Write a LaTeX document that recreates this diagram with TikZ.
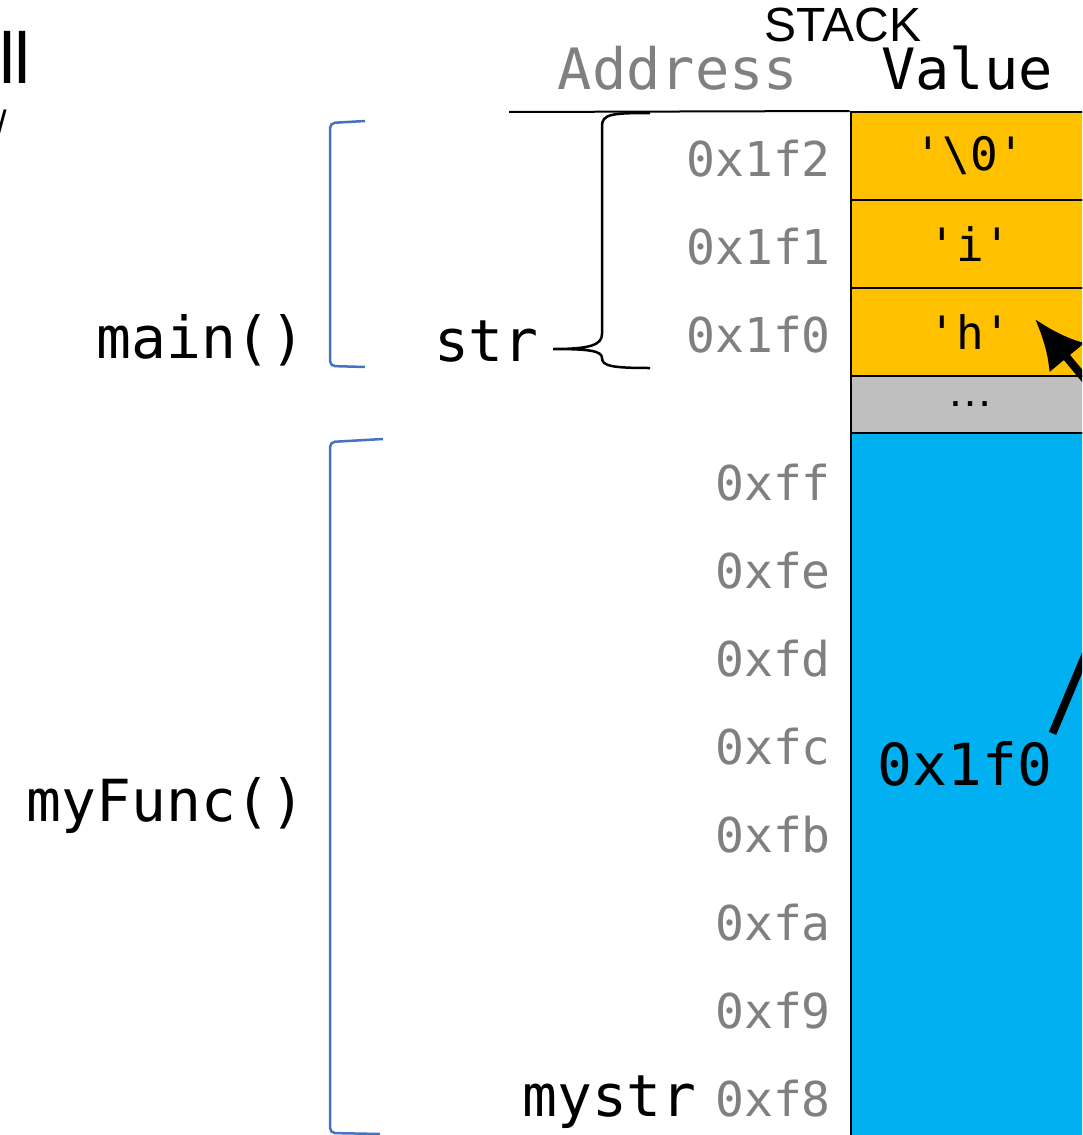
\documentclass[tikz,border=0pt]{standalone}
\usepackage{fontspec}
\setmonofont{DejaVu Sans Mono}
\setsansfont{Liberation Sans}
\usepackage{tikz}
\usetikzlibrary{arrows.meta,positioning,calc}
\definecolor{jaune}{HTML}{FFC000}
\definecolor{grisclair}{HTML}{BFBFBF}
\definecolor{bleuciel}{HTML}{00B0F0}
\definecolor{bleutrait}{HTML}{4472C4}
\definecolor{grisadresse}{HTML}{808080}
\newcommand{\taille}[1]{\fontsize{#1}{#1}\selectfont}
\newcommand{\apos}{\textquotesingle}

\begin{document}
\begin{tikzpicture}[x=1pt,y=-1pt]
\tikzstyle{case}=[draw=black,line width=2pt,minimum width=239pt,minimum height=88pt,inner sep=0pt,font=\ttfamily\taille{46}]
\tikzstyle{adresse}=[anchor=east,inner sep=0pt,text=grisadresse,font=\ttfamily\taille{48}]
\tikzstyle{entete}=[inner sep=0pt,font=\ttfamily\taille{57}]
\tikzstyle{etiquette}=[inner sep=0pt,font=\ttfamily\taille{58}]
\tikzstyle{crochet}=[draw=bleutrait,line width=2.5pt,rounded corners=5pt]
\tikzstyle{accolade}=[draw=black,line width=2.5pt]
\tikzstyle{fleche}=[-{Latex[length=50pt,width=46pt]},line width=8pt]
\def\HauteurCase{88}
\def\HautPile{112}
\def\HautCadre{436}
\def\XValeur{970}
\def\XAdresse{831}
\useasboundingbox (0,0) rectangle (1082,1135);
\clip (0,0) rectangle (1082,1135);
\node[inner sep=0pt,font=\sffamily\taille{72}] (coupe) at (15,57) {ll};
\node[anchor=east,inner sep=0pt,font=\sffamily\taille{38}] (coupebis) at (7,124) {/};
\node[inner sep=0pt,font=\sffamily\taille{48}] (pile) at (843,25) {STACK};
\node[entete,text=grisadresse] (adr) at (678,68) {Address};
\node[entete] (val) at (967,68) {Value};
\node[case,fill=jaune] (c2) at ({\XValeur},{\HautPile+0.5*\HauteurCase}) {\apos\textbackslash0\apos};
\node[case,fill=jaune] (c1) at ({\XValeur},{\HautPile+1.5*\HauteurCase}) {\apos i\apos};
\node[case,fill=jaune] (c0) at ({\XValeur},{\HautPile+2.5*\HauteurCase}) {\apos h\apos};
\node[case,fill=grisclair,minimum height=57pt,font=\sffamily\taille{46}] (trou) at ({\XValeur},{\HautPile+3*\HauteurCase+28.5}) {\ldots};
\node[case,fill=bleuciel,minimum height=707pt] (cadre) at ({\XValeur},{433+353.5}) {};
\coordinate (debut) at (509,112);
\draw[line width=2pt] (debut) -- (c2.north west);
\node[adresse] (a2) at ({\XAdresse},{\HautPile+0.5*\HauteurCase+3}) {0x1f2};
\node[adresse] (a1) at ({\XAdresse},{\HautPile+1.5*\HauteurCase+3}) {0x1f1};
\node[adresse] (a0) at ({\XAdresse},{\HautPile+2.5*\HauteurCase+3}) {0x1f0};
\node[adresse] (aff) at ({\XAdresse},{\HautCadre+0.5*\HauteurCase+3}) {0xff};
\node[adresse] (afe) at ({\XAdresse},{\HautCadre+1.5*\HauteurCase+3}) {0xfe};
\node[adresse] (afd) at ({\XAdresse},{\HautCadre+2.5*\HauteurCase+3}) {0xfd};
\node[adresse] (afc) at ({\XAdresse},{\HautCadre+3.5*\HauteurCase+3}) {0xfc};
\node[adresse] (afb) at ({\XAdresse},{\HautCadre+4.5*\HauteurCase+3}) {0xfb};
\node[adresse] (afa) at ({\XAdresse},{\HautCadre+5.5*\HauteurCase+3}) {0xfa};
\node[adresse] (af9) at ({\XAdresse},{\HautCadre+6.5*\HauteurCase+3}) {0xf9};
\node[adresse] (af8) at ({\XAdresse},{\HautCadre+7.5*\HauteurCase+3}) {0xf8};
\node[etiquette,anchor=east] (main) at (306,340) {main()};
\node[etiquette,anchor=east] (myfunc) at (306,806) {myFunc()};
\node[etiquette,anchor=base east] (mystr) at ([xshift=-18pt]af8.base west) {mystr};
\coordinate (pointe) at (553,349);
\node[etiquette,anchor=east] (str) at ([xshift=-14pt,yshift=7pt]pointe) {str};
\node[etiquette] (pointeur) at (965,764) {0x1f0};
\draw[crochet] (365,121) -- (330,123) -- (330,366) -- (365,367);
\draw[crochet] (383,439) -- (330,442) -- (330,1133) -- (380,1134);
\draw[accolade] (650,113) .. controls (612,113) and (602,114) .. (602,126) -- (602,334)
  .. controls (602,345) and (590,349) .. (pointe)
  .. controls (590,349) and (602,351) .. (602,358)
  .. controls (602,366) and (612,368) .. (650,368);
\coordinate (coude) at (1162,472);
\coordinate (cible) at (1035,319);
\draw[fleche] ([yshift=8pt]pointeur.north east) -- (coude) -- (cible);
\end{tikzpicture}
\end{document}
